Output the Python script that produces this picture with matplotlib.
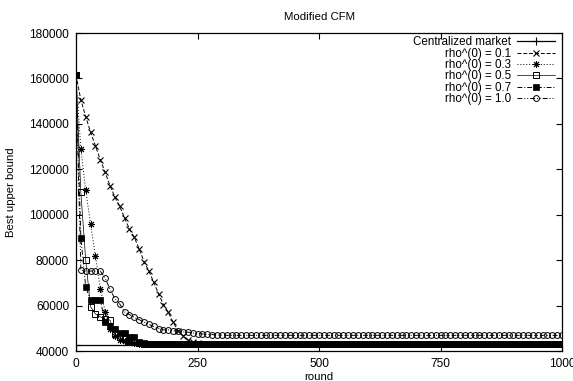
import numpy as np
import matplotlib
matplotlib.use('Agg')
import matplotlib.pyplot as plt

plt.rcParams['font.family'] = ['Liberation Sans', 'DejaVu Sans']

# rounds sampled every 10
rounds = list(range(0, 1001, 10))

central_x = [0, 1000]
central_y = [42500, 42500]

rho01 = [161500, 150500, 143200, 136300, 130300, 124200, 118600, 112750,
         107800, 103650, 98550, 93700, 90000, 85000, 79300, 75200, 70200,
         65200, 60400, 57000, 52600, 49000, 46700, 44900, 44000, 43600] + [43300] * 75
rho03 = [161500, 128900, 110700, 95900, 81800, 67500, 57200, 49800, 46500,
         45000, 44200, 43800, 43500] + [43300] * 88
rho05 = [161500, 109800, 79900, 59500, 56300, 55100, 53900, 53600, 47300,
         46000, 45100, 44500, 43900, 43500] + [43300] * 87
rho07 = [161500, 89800, 68200, 62300, 62300, 62300, 52800, 51000, 49500,
         48000, 47800, 46300, 46000, 44100, 43500] + [43300] * 86
rho10 = [161500, 75500, 75200, 75200, 75200, 75200, 72000, 67200, 63000,
         60700, 57200, 56000, 54800, 53800, 52700, 51700, 50800, 49900, 49300,
         49300, 48900, 48700, 48400, 48300, 47900, 47700, 47500, 47300, 47200,
         47100, 47000] + [46900] * 70

labels = ['Centralized market', 'rho^(0) = 0.1', 'rho^(0) = 0.3',
          'rho^(0) = 0.5', 'rho^(0) = 0.7', 'rho^(0) = 1.0']

fig = plt.figure(figsize=(5.73, 3.81), dpi=100)
ax = fig.add_axes([76 / 573, 1 - 351 / 381, 486 / 573, 318 / 381])

lw = 0.7
ms = 4.2
ax.plot(central_x, central_y, color='black', lw=0.9, marker='+', ms=6,
        mew=0.8, label=labels[0])
ax.plot(rounds, rho01, color='black', lw=lw, ls=(0, (4, 2)), marker='x',
        ms=4, mew=0.8, label=labels[1])
ax.plot(rounds, rho03, color='black', lw=lw, ls=(0, (1, 2)), marker=(8, 2, 0),
        ms=5, mew=0.7, label=labels[2])
ax.plot(rounds, rho05, color='black', lw=0.5, ls='-', marker='s', ms=ms,
        mfc='none', mew=0.7, label=labels[3])
ax.plot(rounds, rho07, color='black', lw=lw, ls=(0, (5, 2, 1, 2)), marker='s',
        ms=ms, mfc='black', mew=0.5, label=labels[4])
ax.plot(rounds, rho10, color='black', lw=lw, ls=(0, (5, 2, 1, 2, 1, 2)),
        marker='o', ms=ms, mfc='none', mew=0.7, label=labels[5])

ax.set_xlim(0, 1000)
ax.set_ylim(40000, 180000)
ax.set_xticks([0, 250, 500, 750, 1000])
ax.set_yticks(np.arange(40000, 180001, 20000))
ax.tick_params(direction='in', length=4, width=0.8, labelsize=8.6,
               top=True, right=True, pad=5)
for s in ax.spines.values():
    s.set_linewidth(0.9)

ax.set_title('Modified CFM', fontsize=8.2, pad=9)
ax.set_xlabel('round', fontsize=8.2)
ax.set_ylabel('Best upper bound', fontsize=8.2)
ax.xaxis.set_label_coords(0.5, -0.066)
ax.yaxis.set_label_coords(-0.123, 0.5)

ax.legend(loc='upper right', bbox_to_anchor=(0.986, 0.99), frameon=False,
          markerfirst=False, fontsize=8.4, handlelength=3.3, handletextpad=0.5,
          labelspacing=-0.05, borderpad=0, borderaxespad=0)

fig.savefig('out.png', dpi=100)
